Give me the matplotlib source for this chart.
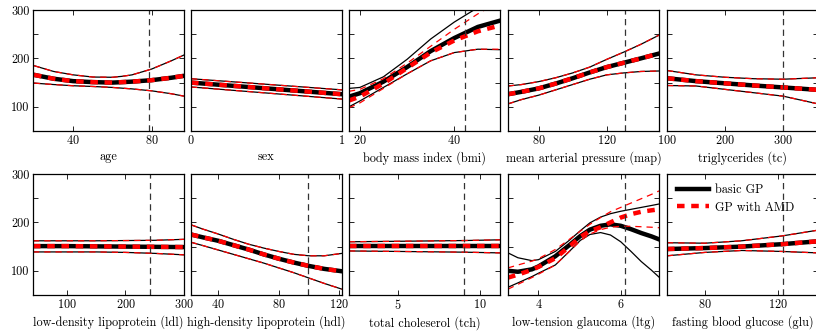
import numpy as np
import matplotlib.pyplot as plt

plt.rcParams['font.family'] = ['cmr10', 'DejaVu Serif']
plt.rcParams['axes.formatter.use_mathtext'] = True
plt.rcParams['font.size'] = 8.8

#####################################
# data
# each panel: x, basic GP mean / upper / lower, optional GP with AMD

# age
age_x = [20, 30, 40, 50, 60, 65, 70, 80, 90, 96.5]
age_mean = [166, 158, 153, 151, 150, 151, 152, 155, 160, 164]
age_hi = [185, 173, 166, 161.5, 161, 163, 166, 178, 195, 207]
age_lo = [149, 146, 143.5, 142, 140, 138.5, 137, 133, 127, 122]

# sex
sex_x = [0, 1]
sex_mean = [150, 126]
sex_hi = [158, 135]
sex_lo = [141, 116]

# bmi
bmi_x = [17.7, 20, 25, 30, 35, 40, 45, 49.7]
bmi_mean = [121, 128, 152, 182, 215, 242, 265, 278]
bmi_hi = [138, 140, 162, 198, 240, 275, 305, 330]
bmi_lo = [100, 112, 140, 168, 195, 212, 219, 218]
bmi_amd_mean = [113, 121, 148, 180, 212, 237, 256, 268]
bmi_amd_hi = [132, 136, 158, 190, 225, 260, 292, 318]
bmi_amd_lo = [98, 108, 138, 168, 195, 212, 219, 219]

# map
map_x = [62, 70, 80, 90, 100, 110, 120, 130, 140, 150.7]
map_mean = [126, 131, 138, 148, 159, 171, 182, 191, 200, 210]
map_hi = [143, 146, 152, 160, 170, 182, 198, 213, 229, 248]
map_lo = [106, 115, 124, 135, 146, 157, 166, 170, 173, 174]

# tc
tc_x = [100, 150, 200, 250, 300, 360]
tc_mean = [159, 153, 148.5, 144, 140, 135]
tc_hi = [175, 166, 161, 158, 157, 160]
tc_lo = [144, 143, 136, 129, 122, 106]

# ldl
ldl_x = [42, 100, 150, 200, 250, 300]
ldl_mean = [151, 151, 150.5, 150, 149.5, 149]
ldl_hi = [162, 162, 162, 162.5, 163, 165]
ldl_lo = [139, 139, 139, 138, 136, 133]

# hdl
hdl_x = [22, 30, 40, 50, 60, 70, 80, 90, 100, 110, 121.8]
hdl_mean = [175, 169, 162, 153, 144, 134, 125, 117, 110, 104, 99]
hdl_hi = [195, 186, 176, 165, 155, 147, 140, 134, 131, 131, 136]
hdl_lo = [159, 152, 143, 134, 125, 116, 106, 96, 85, 74, 62]

# tch
tch_x = [2, 5, 9, 11.2]
tch_mean = [152, 152, 152, 152]
tch_hi = [160, 161, 162.5, 164]
tch_lo = [141, 140, 138.5, 137]

# ltg
ltg_x = [3.26, 3.5, 3.84, 4.0, 4.41, 4.75, 5.02, 5.25, 5.51, 5.75, 6.0, 6.25, 6.5, 6.75, 6.93]
ltg_mean = [100, 98, 103, 109, 130, 153, 172, 185, 193, 196, 193, 186, 178, 171, 165]
ltg_hi = [137, 127, 121, 123, 140, 163, 183, 199, 211, 218, 223, 227, 231, 235, 238]
ltg_lo = [66, 75, 88, 95, 112, 140, 163, 175, 179, 174, 160, 140, 119, 101, 87]
ltg_amd_mean = [86, 92, 102, 108, 126, 150, 170, 182, 190, 200, 210, 217, 222, 225, 227]
ltg_amd_hi = [106, 112, 120, 125, 144, 165, 182, 196, 210, 222, 231, 240, 249, 258, 265]
ltg_amd_lo = [62, 72, 86, 93, 112, 140, 162, 176, 185, 190, 192, 192, 191, 190, 189]

# glu
glu_x = [59.3, 80, 100, 122, 141.7]
glu_mean = [145, 147, 150, 155, 161]
glu_hi = [158, 157, 162, 172, 184]
glu_lo = [131, 138, 142, 140, 137]

panels = [
    ('age', age_x, age_mean, age_hi, age_lo, None, (19.5, 96.5), [40, 80], 78.5),
    ('sex', sex_x, sex_mean, sex_hi, sex_lo, None, (0, 1), [0, 1], None),
    ('body mass index (bmi)', bmi_x, bmi_mean, bmi_hi, bmi_lo,
     (bmi_amd_mean, bmi_amd_hi, bmi_amd_lo), (17.7, 49.7), [20, 40], 42.2),
    ('mean arterial pressure (map)', map_x, map_mean, map_hi, map_lo, None, (62, 150.7), [80, 120], 130.6),
    ('triglycerides (tc)', tc_x, tc_mean, tc_hi, tc_lo, None, (100, 360), [100, 200, 300], 300),
    ('low-density lipoprotein (ldl)', ldl_x, ldl_mean, ldl_hi, ldl_lo, None, (42, 300), [100, 200, 300], 242),
    ('high-density lipoprotein (hdl)', hdl_x, hdl_mean, hdl_hi, hdl_lo, None, (22, 121.8), [40, 80, 120], 99),
    ('total choleserol (tch)', tch_x, tch_mean, tch_hi, tch_lo, None, (2, 11.2), [5, 10], 9.0),
    ('low-tension glaucoma (ltg)', ltg_x, ltg_mean, ltg_hi, ltg_lo,
     (ltg_amd_mean, ltg_amd_hi, ltg_amd_lo), (3.26, 6.93), [4, 6], 6.1),
    ('fasting blood glucose (glu)', glu_x, glu_mean, glu_hi, glu_lo, None, (59.3, 141.7), [80, 120], 122.4),
]
#####################################

W, H = 816, 331
fig = plt.figure(figsize=(W / 100, H / 100), dpi=100)

col_left = [33, 191, 349, 508, 667]
row_top = [10, 174]
aw, ah = 151, 121

for i, (label, x, m, hi, lo, amd, xlim, xt, vline) in enumerate(panels):
    r, c = divmod(i, 5)
    ax = fig.add_axes([col_left[c] / W, 1 - (row_top[r] + ah) / H, aw / W, ah / H])

    if amd is None:
        amd = (m, hi, lo)

    # basic GP
    ax.plot(x, hi, color='black', lw=0.9)
    ax.plot(x, lo, color='black', lw=0.9)
    ax.plot(x, m, color='black', lw=3.2, label='basic GP')
    # GP with AMD
    ax.plot(x, amd[1], color='red', lw=0.9, dashes=(5, 4))
    ax.plot(x, amd[2], color='red', lw=0.9, dashes=(5, 4))
    ax.plot(x, amd[0], color='red', lw=3.2, dashes=(1.7, 1.5), label='GP with AMD')

    if vline is not None:
        ax.axvline(vline, color='#333333', lw=0.9, dashes=(5, 3.5))

    ax.set_xlim(*xlim)
    ax.set_ylim(50, 300)
    ax.set_xticks(xt)
    ax.set_yticks([100, 150, 200, 250, 300])
    if c == 0:
        ax.set_yticklabels(['100', '', '200', '', '300'])
    else:
        ax.set_yticklabels([])
    ax.tick_params(direction='in', top=True, right=True, length=3.5, width=0.6,
                   labelsize=8.8, pad=2.5)
    for s in ax.spines.values():
        s.set_linewidth(0.9)
    ax.set_xlabel(label, fontsize=8.8, labelpad=2.5)

    if i == 9:
        ax.legend(loc='upper left', frameon=False, fontsize=8.8, handlelength=2.6,
                  handletextpad=0.5, borderaxespad=0.4, labelspacing=0.45)

fig.savefig('out.png', dpi=100)
